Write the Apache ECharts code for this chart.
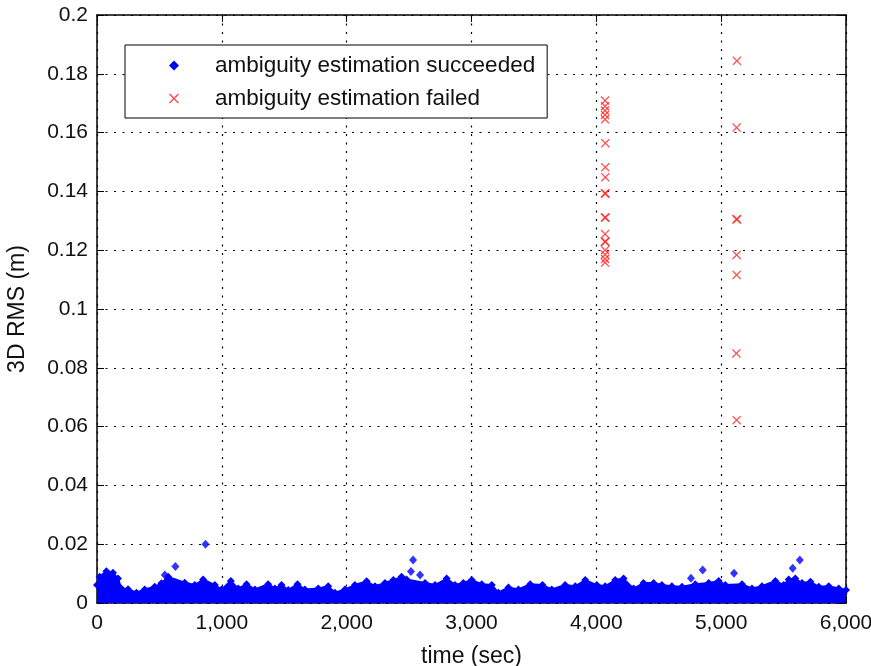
<!DOCTYPE html>
<html>
<head>
<meta charset="utf-8">
<script src="https://cdn.jsdelivr.net/npm/echarts@6/dist/echarts.min.js"></script>
<style>html,body{margin:0;padding:0;background:#fff;}#c{width:871px;height:666px;}</style>
</head>
<body>
<div id="c"></div>
<script>
// Upper envelope of the dense "succeeded" band (time in sec, 3D RMS in m)
const bandTime = [0, 21, 75, 128, 168, 195, 249, 316, 382, 462, 516, 570, 703, 783, 850, 944, 997, 1072, 1131, 1198, 1265, 1371, 1425, 1478, 1532, 1606, 1665, 1772, 1852, 1906, 1986, 2066, 2160, 2227, 2307, 2374, 2440, 2480, 2628, 2708, 2801, 2868, 2935, 3002, 3082, 3162, 3216, 3296, 3376, 3470, 3569, 3643, 3750, 3831, 3911, 4004, 4071, 4151, 4218, 4298, 4378, 4459, 4525, 4605, 4686, 4793, 4900, 4980, 5033, 5167, 5247, 5327, 5434, 5501, 5541, 5594, 5648, 5715, 5782, 5862, 5942, 6000];
const bandRms  = [0.0061, 0.0089, 0.0108, 0.0103, 0.0083, 0.0049, 0.0047, 0.0035, 0.0046, 0.0055, 0.0067, 0.0089, 0.0069, 0.0061, 0.0080, 0.0061, 0.0046, 0.0075, 0.0049, 0.0064, 0.0046, 0.0064, 0.0049, 0.0061, 0.0044, 0.0064, 0.0046, 0.0049, 0.0057, 0.0035, 0.0046, 0.0061, 0.0074, 0.0057, 0.0068, 0.0078, 0.0089, 0.0080, 0.0068, 0.0061, 0.0083, 0.0061, 0.0068, 0.0078, 0.0064, 0.0061, 0.0035, 0.0053, 0.0046, 0.0064, 0.0061, 0.0046, 0.0061, 0.0057, 0.0078, 0.0061, 0.0057, 0.0078, 0.0083, 0.0049, 0.0068, 0.0068, 0.0061, 0.0057, 0.0055, 0.0064, 0.0068, 0.0075, 0.0061, 0.0064, 0.0049, 0.0057, 0.0075, 0.0061, 0.0080, 0.0083, 0.0068, 0.0072, 0.0055, 0.0057, 0.0049, 0.0044];
// Isolated "succeeded" points above the band
const okTime = [543, 628, 869, 2515, 2532, 2588, 4758, 4852, 5103, 5573, 5630];
const okRms  = [0.0095, 0.0124, 0.0200, 0.0107, 0.0146, 0.0095, 0.0084, 0.0112, 0.0101, 0.0118, 0.0146];
// "failed" points
const failTime = [4070, 4070, 4070, 4070, 4070, 4072, 4072, 4072, 4068, 4074, 4068, 4074, 4070, 4068, 4074, 4070, 4070, 4070, 4070,
                  5126, 5124, 5122, 5128, 5124, 5124, 5122, 5124];
const failRms  = [0.1709, 0.1690, 0.1675, 0.1660, 0.1645, 0.1564, 0.1482, 0.1448, 0.1393, 0.1393, 0.1311, 0.1311, 0.1255, 0.1229, 0.1229, 0.1200, 0.1185, 0.1170, 0.1158,
                  0.1844, 0.1617, 0.1305, 0.1305, 0.1184, 0.1116, 0.0849, 0.0622];
const xTicks = [0, 1000, 2000, 3000, 4000, 5000, 6000];
const yTicks = [0, 0.02, 0.04, 0.06, 0.08, 0.1, 0.12, 0.14, 0.16, 0.18, 0.2];
const nameOk = 'ambiguity estimation succeeded';
const nameFail = 'ambiguity estimation failed';
const xLabel = 'time (sec)';
const yLabel = '3D RMS (m)';

const X_ICON = 'path://M0,1L1,0L5,4L9,0L10,1L6,5L10,9L9,10L5,6L1,10L0,9L4,5Z';
const font = 'Liberation Sans, Arial, sans-serif';
const dotted = {show: true, lineStyle: {color: '#000', type: [2, 6.5], width: 1.2}};

const chart = echarts.init(document.getElementById('c'), null, {renderer: 'canvas'});
chart.setOption({
  animation: false,
  backgroundColor: '#fff',
  grid: {left: 97, right: 25, top: 15, bottom: 63, show: false, containLabel: false, outerBoundsMode: 'none'},
  legend: {
    orient: 'vertical', left: 125, top: 45,
    backgroundColor: '#fff', borderColor: '#000', borderWidth: 1,
    padding: [9, 12, 8, 44], itemGap: 10, itemWidth: 10, itemHeight: 10,
    textStyle: {fontFamily: font, fontSize: 22.5, color: '#111', padding: [0, 0, 0, 31]},
    data: [
      {name: nameOk, icon: 'diamond', itemStyle: {color: '#0000ff'}},
      {name: nameFail, icon: X_ICON, itemStyle: {color: '#ff2020'}}
    ]
  },
  xAxis: [{
    type: 'value', min: xTicks[0], max: xTicks[xTicks.length - 1], interval: 1000,
    name: xLabel, nameLocation: 'middle', nameGap: 42,
    nameTextStyle: {fontFamily: font, fontSize: 23, color: '#111'},
    axisLine: {onZero: false, lineStyle: {color: '#000', width: 1.5}},
    axisTick: {inside: true, length: 7, lineStyle: {color: '#000'}},
    axisLabel: {fontFamily: font, fontSize: 21, color: '#111', margin: 10,
      formatter: v => v.toLocaleString('en-US')},
    splitLine: dotted
  }, {
    type: 'value', position: 'top', min: 0, max: 6000, interval: 1000,
    axisLine: {onZero: false, lineStyle: {color: '#000', width: 1.5}},
    axisTick: {inside: true, length: 7, lineStyle: {color: '#000'}},
    axisLabel: {show: false}, splitLine: {show: false}
  }],
  yAxis: [{
    type: 'value', min: yTicks[0], max: yTicks[yTicks.length - 1], interval: 0.02,
    name: yLabel, nameLocation: 'middle', nameGap: 68, nameRotate: 90,
    nameTextStyle: {fontFamily: font, fontSize: 23, color: '#111'},
    axisLine: {show: true, onZero: false, lineStyle: {color: '#000', width: 1.5}},
    axisTick: {show: true, inside: true, length: 7, lineStyle: {color: '#000'}},
    axisLabel: {fontFamily: font, fontSize: 21, color: '#111', margin: 9,
      formatter: v => String(+v.toFixed(2))},
    splitLine: dotted
  }, {
    type: 'value', position: 'right', min: 0, max: 0.2, interval: 0.02,
    axisLine: {show: true, onZero: false, lineStyle: {color: '#000', width: 1.5}},
    axisTick: {show: true, inside: true, length: 7, lineStyle: {color: '#000'}},
    axisLabel: {show: false}, splitLine: {show: false}
  }],
  series: [{
    name: nameOk, type: 'line',
    data: bandTime.map((t, i) => [t, bandRms[i]]),
    symbol: 'diamond', symbolSize: 8, showAllSymbol: true,
    lineStyle: {color: '#0000ff', width: 2},
    itemStyle: {color: '#0000ff'},
    areaStyle: {color: '#0000ff', opacity: 1, origin: 'start'},
    z: 2
  }, {
    name: nameOk, type: 'scatter',
    data: okTime.map((t, i) => [t, okRms[i]]),
    symbol: 'diamond', symbolSize: [8, 9],
    itemStyle: {color: '#0000ff'}, z: 3
  }, {
    name: nameFail, type: 'scatter',
    data: failTime.map((t, i) => [t, failRms[i]]),
    symbol: X_ICON, symbolSize: 9,
    itemStyle: {color: '#ff2020'}, z: 4
  }]
});
</script>
</body>
</html>
